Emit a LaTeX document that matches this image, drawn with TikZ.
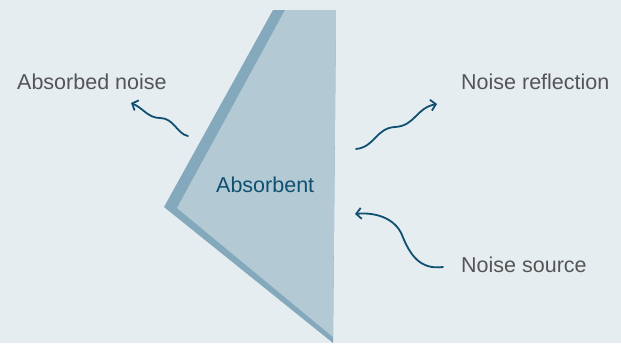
\documentclass[tikz,border=0pt]{standalone}
\usepackage{fontspec}
\setmainfont{Liberation Sans}
\usetikzlibrary{arrows.meta}
\definecolor{bg}{HTML}{E5EDF1}
\definecolor{edgec}{HTML}{84A9BC}
\definecolor{fillc}{HTML}{B3CAD5}
\definecolor{txt}{HTML}{555555}
\definecolor{wave}{HTML}{0F5070}
\tikzset{
  lbl/.style={anchor=base west, inner sep=0pt, text=txt, font=\fontsize{21.5}{25}\selectfont},
  wavy/.style={draw=wave, line width=1.8pt, line cap=round, -{Straight Barb[length=5pt,width=11pt,line width=1.8pt]}}
}
\begin{document}
\begin{tikzpicture}[x=1pt,y=-1pt]
\fill[bg] (0,0) rectangle (621,343);
\useasboundingbox (0,0) rectangle (621,343);
% absorbent wedge
\fill[edgec] (273,10) -- (336,10) -- (333,343) -- (164,207) -- cycle;
\fill[fillc] (285,10) -- (336,10) -- (333,337) -- (177,208) -- cycle;
\node[lbl, text=wave] (abs) at (216,192) {Absorbent};
% labels
\node[lbl] (absn) at (17,89) {Absorbed noise};
\node[lbl] (refl) at (461,89) {Noise reflection};
\node[lbl] (src) at (461,272) {Noise source};
% arrow anchors
\coordinate (a1) at (188,136);
\coordinate (a2) at (131,103);
\coordinate (r1) at (356,149);
\coordinate (r2) at (437,104);
\coordinate (s1) at (443,267);
\coordinate (s2) at (355,214);
\draw[wavy] (a1) .. controls (177,134) and (174,118) .. (160,118) .. controls (148,118) and (143,108) .. (a2);
\draw[wavy] (r1) .. controls (375,147) and (376,128) .. (395,127) .. controls (415,126) and (416,108) .. (r2);
\draw[wavy] (s1) .. controls (420,270) and (410,255) .. (402,235) .. controls (395,218) and (375,212) .. (s2);
\end{tikzpicture}
\end{document}
